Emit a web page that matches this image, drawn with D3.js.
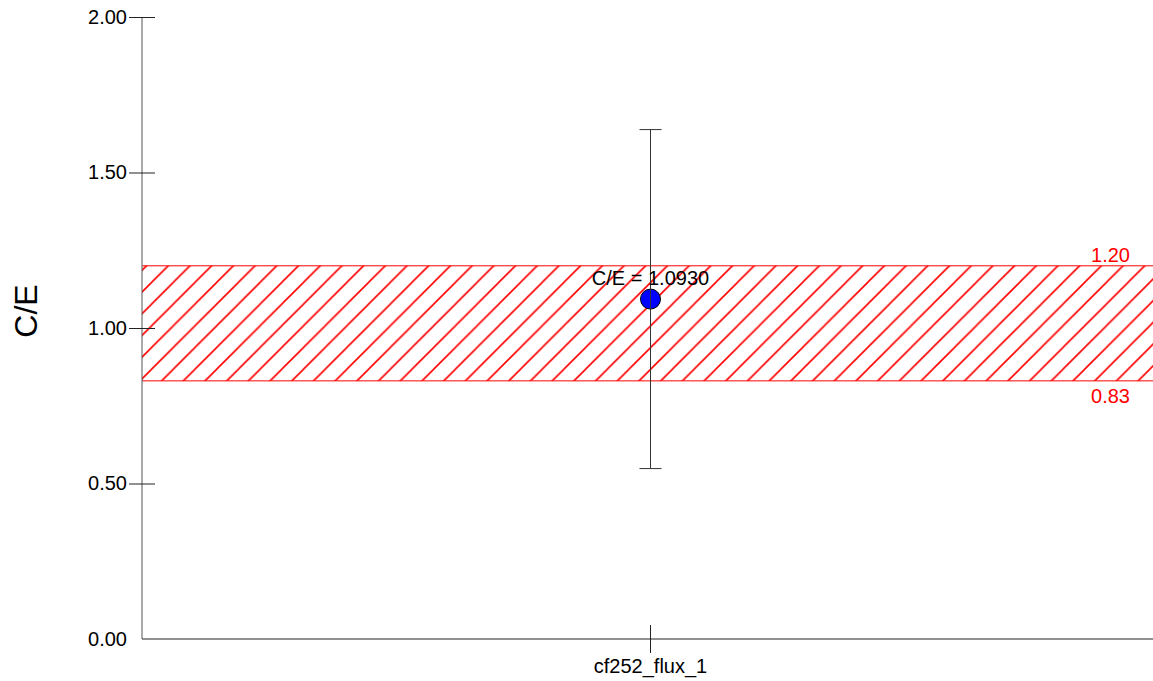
<!DOCTYPE html>
<html lang="en">
<head>
<meta charset="utf-8" />
<title>C/E</title>
<style>
body { margin:0; background:#fff; }
svg text { font-family: "Liberation Sans", Arial, sans-serif; }
</style>
</head>
<body>
<script src="https://cdn.jsdelivr.net/npm/d3@7"></script>
<script type="text/javascript">
// data
var categories = ["cf252_flux_1"];
var ceValues = [1.093];
var ceErrors = [0.545];
var bandLimits = [0.83, 1.20];
var yTicks = [0, 0.5, 1.0, 1.5, 2.0];

var W = 1153, H = 681;
var svg = d3.select("body").append("svg")
    .attr("width", W)
    .attr("height", H);

var plotLeft = 142, plotRight = 1159, plotTop = 17, plotBottom = 639;

var y = d3.scaleLinear().domain([0, 2]).range([plotBottom, plotTop]);
var x = d3.scaleBand().domain(categories).range([plotLeft, plotRight]);

// hatch pattern
var pat = svg.append("defs").append("pattern")
    .attr("id", "hatch")
    .attr("patternUnits", "userSpaceOnUse")
    .attr("width", 21.7)
    .attr("height", 21.7);
pat.append("path")
   .attr("d", "M0,21.7 L21.7,0 M-5,5 L5,-5 M16.7,26.7 L26.7,16.7")
   .attr("stroke", "#ff0000")
   .attr("stroke-width", 1.6);

// acceptance band
svg.append("rect")
   .attr("x", plotLeft)
   .attr("y", y(bandLimits[1]))
   .attr("width", W - plotLeft)
   .attr("height", y(bandLimits[0]) - y(bandLimits[1]))
   .attr("fill", "url(#hatch)");
svg.selectAll(".bandLine").data(bandLimits).enter().append("line")
   .attr("x1", plotLeft).attr("x2", W)
   .attr("y1", function(d){ return y(d); })
   .attr("y2", function(d){ return y(d); })
   .attr("stroke", "#ff0000")
   .attr("stroke-width", 1);
svg.append("text")
   .attr("x", 1130).attr("y", y(bandLimits[1]) - 4)
   .attr("text-anchor", "end")
   .attr("font-size", 20)
   .attr("fill", "#ff0000")
   .text(bandLimits[1].toFixed(2));
svg.append("text")
   .attr("x", 1130).attr("y", y(bandLimits[0]) + 22)
   .attr("text-anchor", "end")
   .attr("font-size", 20)
   .attr("fill", "#ff0000")
   .text(bandLimits[0].toFixed(2));

// y axis
var yAxis = d3.axisLeft(y).tickValues(yTicks)
    .tickFormat(d3.format(".2f"))
    .tickSize(13).tickPadding(2);
var gy = svg.append("g").attr("transform", "translate(" + plotLeft + ",0)").call(yAxis);
gy.select(".domain").attr("stroke", "#555").attr("d", "M0," + plotTop + "V" + plotBottom);
gy.selectAll(".tick line").attr("stroke", "#222").attr("x2", 13).attr("x1", -13);
gy.selectAll(".tick").filter(function(d){ return d === 0; }).select("line").remove();
gy.selectAll(".tick text").attr("font-size", 20).attr("fill", "#000")
   .attr("font-family", "Liberation Sans, Arial, sans-serif");

// x axis
var xAxis = d3.axisBottom(x).tickSize(14).tickPadding(6);
var gx = svg.append("g").attr("transform", "translate(0," + plotBottom + ")").call(xAxis);
gx.select(".domain").attr("stroke", "#222").attr("d", "M" + plotLeft + ",0H" + W);
gx.selectAll(".tick line").attr("stroke", "#222").attr("y1", -14);
gx.selectAll(".tick text").attr("font-size", 20).attr("fill", "#000")
   .attr("font-family", "Liberation Sans, Arial, sans-serif");

// y title
svg.append("text")
   .attr("transform", "translate(37,311) rotate(-90)")
   .attr("text-anchor", "middle")
   .attr("font-size", 32)
   .text("C/E");

// point
var cx = function(d, i){ return x(categories[i]) + x.bandwidth() / 2; };
svg.selectAll(".pt").data(ceValues).enter().append("circle")
   .attr("cx", cx)
   .attr("cy", function(d){ return y(d); })
   .attr("r", 10)
   .attr("fill", "#0000ff")
   .attr("stroke", "#000")
   .attr("stroke-width", 1);

// error bar
ceValues.forEach(function(v, i){
  var c = x(categories[i]) + x.bandwidth() / 2;
  var lo = y(v - ceErrors[i]), hi = y(v + ceErrors[i]);
  svg.append("line").attr("x1", c).attr("x2", c).attr("y1", hi).attr("y2", lo)
     .attr("stroke", "#333").attr("stroke-width", 1);
  [lo, hi].forEach(function(p){
    svg.append("line").attr("x1", c - 11).attr("x2", c + 11).attr("y1", p).attr("y2", p)
       .attr("stroke", "#333").attr("stroke-width", 1);
  });
  svg.append("text")
     .attr("x", c).attr("y", y(v) - 14)
     .attr("text-anchor", "middle")
     .attr("font-size", 20)
     .text("C/E = " + v.toFixed(4));
});
</script>
</body>
</html>
